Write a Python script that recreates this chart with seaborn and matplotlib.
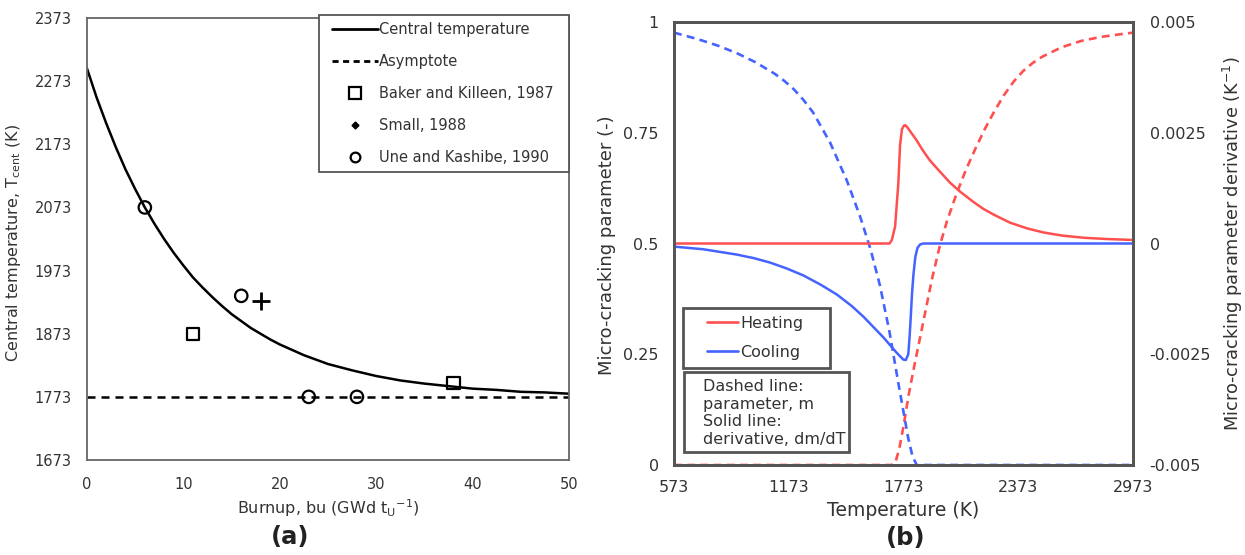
import matplotlib
matplotlib.use("Agg")
import matplotlib.pyplot as plt
import seaborn as sns
from matplotlib.lines import Line2D
from matplotlib.patches import Rectangle

# ---------------- data: panel (a) ----------------
bu_curve = [0, 1, 2, 3, 4, 5, 6, 7, 8, 9, 10, 11, 12, 13, 14, 15, 16, 17, 18, 19, 20,
            22.5, 25, 27.5, 30, 32.5, 35, 37.5, 40, 42.5, 45, 47.5, 50]
t_curve = [2293, 2247, 2206, 2168, 2133, 2102, 2073, 2047, 2023, 2001, 1981, 1962, 1946,
           1931, 1917, 1904, 1893, 1882, 1873, 1864, 1856,
           1839, 1825, 1815, 1806, 1799, 1794, 1790, 1786, 1784, 1781, 1780, 1778]
asym_bu = [0, 50]
asym_t = [1773, 1773]
baker_bu = [11, 38]
baker_t = [1873, 1795]
small_bu = [18]
small_t = [1925]
une_bu = [6, 16, 23, 28]
une_t = [2073, 1933, 1773, 1773]
legend_a = ["Central temperature", "Asymptote", "Baker and Killeen, 1987",
            "Small, 1988", "Une and Kashibe, 1990"]
xticks_a = [0, 10, 20, 30, 40, 50]
yticks_a = [1673, 1773, 1873, 1973, 2073, 2173, 2273, 2373]

# ---------------- data: panel (b) ----------------
heat_T_m = [573, 1000, 1500, 1710, 1730, 1750, 1772, 1800, 1830, 1868, 1921, 1964, 2000,
            2050, 2100, 2150, 2200, 2250, 2300, 2350, 2400, 2450, 2500, 2600, 2700, 2800,
            2900, 2973]
heat_m = [0, 0, 0, 0, 0.005, 0.035, 0.085, 0.158, 0.225, 0.305, 0.418, 0.497, 0.55,
          0.612, 0.667, 0.715, 0.76, 0.8, 0.836, 0.866, 0.89, 0.908, 0.922, 0.943, 0.957,
          0.966, 0.972, 0.976]
cool_T_m = [573, 700, 800, 900, 1000, 1100, 1150, 1200, 1250, 1300, 1389, 1476, 1546,
            1600, 1650, 1700, 1750, 1798, 1820, 1842, 2000, 2973]
cool_m = [0.976, 0.961, 0.947, 0.930, 0.909, 0.883, 0.867, 0.848, 0.824, 0.796, 0.728,
          0.643, 0.561, 0.488, 0.405, 0.30, 0.175, 0.06, 0.02, 0, 0, 0]
heat_T_d = [573, 1500, 1700, 1712, 1729, 1746, 1755, 1765, 1775, 1781, 1790, 1810, 1840,
            1870, 1910, 1964, 2017, 2069, 2138, 2191, 2250, 2330, 2420, 2504, 2600, 2714,
            2840, 2973]
heat_d = [0, 0, 0, 0.00008, 0.00038, 0.00136, 0.00222, 0.00258, 0.00266, 0.00267,
          0.00264, 0.00252, 0.00234, 0.00213, 0.00188, 0.00162, 0.00137, 0.00117, 0.00094,
          0.00078, 0.00064, 0.00047, 0.00034, 0.00025, 0.00018, 0.00013, 0.0001, 0.00008]
cool_T_d = [573, 726, 901, 990, 1075, 1160, 1249, 1340, 1424, 1502, 1563, 1668, 1738,
            1772, 1785, 1798, 1805, 1811, 1818, 1825, 1835, 1846, 1860, 1877, 2973]
cool_d = [-0.00007, -0.00013, -0.00025, -0.00033, -0.00043, -0.00056, -0.00072, -0.00093,
          -0.00115, -0.00141, -0.00165, -0.00212, -0.00247, -0.00262, -0.00263, -0.0025,
          -0.0021, -0.00165, -0.0011, -0.0007, -0.0003, -0.0001, -0.00002, 0, 0]
xticks_b = [573, 1173, 1773, 2373, 2973]
yticks_b = [0, 0.25, 0.5, 0.75, 1]
yticklabels_b = ["0", "0.25", "0.5", "0.75", "1"]
yticks_b2 = [-0.005, -0.0025, 0, 0.0025, 0.005]
yticklabels_b2 = ["-0.005", "-0.0025", "0", "0.0025", "0.005"]
legend_b = ["Heating", "Cooling"]
note_b = "Dashed line:\nparameter, m\nSolid line:\nderivative, dm/dT"

RED = "#FF4F4F"
BLUE = "#4463FF"
TXT = "#333333"
FRAME = "#555555"

sns.set_style("white")
plt.rcParams["font.family"] = ["DejaVu Sans"]
plt.rcParams["text.color"] = TXT
plt.rcParams["axes.labelcolor"] = TXT
plt.rcParams["xtick.color"] = TXT
plt.rcParams["ytick.color"] = TXT

W, H = 1245, 555
fig = plt.figure(figsize=(W / 100, H / 100), dpi=100)


def fx(px):
    return px / W


def fy(py):
    return 1 - py / H


# ---------------- panel (a) ----------------
A_L, A_R, A_T, A_B = 87, 569, 18, 460
axA = fig.add_axes([fx(A_L), fy(A_B), fx(A_R) - fx(A_L), fy(A_T) - fy(A_B)])


def axa(px, py):
    return (px - A_L) / (A_R - A_L), (A_B - py) / (A_B - A_T)


sns.lineplot(x=bu_curve, y=t_curve, ax=axA, color="black", lw=1.8, sort=False)
sns.lineplot(x=asym_bu, y=asym_t, ax=axA, color="black", lw=1.8,
             linestyle=(0, (3.2, 2.4)))
sns.scatterplot(x=baker_bu, y=baker_t, ax=axA, marker="s", s=80,
                facecolor="none", edgecolor="black", linewidth=1.6, zorder=3)
sns.scatterplot(x=small_bu, y=small_t, ax=axA, marker="+", s=160,
                color="black", linewidth=2, zorder=3)
sns.scatterplot(x=une_bu, y=une_t, ax=axA, marker="o", s=80,
                facecolor="none", edgecolor="black", linewidth=1.6, zorder=3)
for coll in axA.collections:
    if coll.get_offsets().shape[0] != 1:
        coll.set_facecolor("none")

axA.set_xlim(0, 50)
axA.set_ylim(1673, 2373)
axA.set_xticks(xticks_a)
axA.set_yticks(yticks_a)
axA.tick_params(length=0, labelsize=10.5)
axA.tick_params(axis="y", pad=11)
axA.tick_params(axis="x", pad=12)
axA.set_xlabel("")
axA.set_ylabel("")
for sp in axA.spines.values():
    sp.set_color("#666666")
    sp.set_linewidth(1.3)

# legend frame for (a)
x0, y0 = axa(319, 172)
x1, y1 = axa(569, 15)
axA.add_patch(Rectangle((x0, y0), x1 - x0, y1 - y0, transform=axA.transAxes,
                        fc="white", ec=FRAME, lw=1.3, clip_on=False, zorder=4.5))
handles_a = [
    Line2D([], [], color="black", lw=2),
    Line2D([], [], color="black", lw=2, linestyle=(0, (2.2, 1.6))),
    Line2D([], [], ls="none", marker="s", ms=8, mfc="none", mec="black", mew=1.6),
    Line2D([], [], ls="none", marker="D", ms=3.5, color="black"),
    Line2D([], [], ls="none", marker="o", ms=7, mfc="none", mec="black", mew=1.6),
]
lx, ly = axa(332, 22)
legA = axA.legend(handles_a, legend_a, loc="upper left", bbox_to_anchor=(lx, ly),
                  borderaxespad=0, borderpad=0, fontsize=10.5, frameon=False,
                  handlelength=3.15, handletextpad=0.08, labelspacing=1.16)
legA.set_zorder(5)

fig.text(fx(14), fy(243), r"Central temperature, T$_\mathregular{cent}$ (K)",
         rotation=90, ha="center", va="center", fontsize=11.5)
fig.text(fx(328), fy(508), r"Burnup, bu (GWd t$_\mathregular{U}$$^\mathregular{-1}$)",
         ha="center", va="center", fontsize=11.5)
fig.text(fx(290), fy(537), "(a)", ha="center", va="center", fontsize=17.5,
         fontweight="bold", color="#222222")

# ---------------- panel (b) ----------------
B_L, B_R, B_T, B_B = 674, 1133, 22, 465
axB = fig.add_axes([fx(B_L), fy(B_B), fx(B_R) - fx(B_L), fy(B_T) - fy(B_B)])


def axb(px, py):
    return (px - B_L) / (B_R - B_L), (B_B - py) / (B_B - B_T)


sns.lineplot(x=heat_T_m, y=heat_m, ax=axB, color=RED, lw=1.9,
             linestyle=(0, (3.0, 2.0)), sort=False)
sns.lineplot(x=cool_T_m, y=cool_m, ax=axB, color=BLUE, lw=1.9,
             linestyle=(0, (3.0, 2.0)), sort=False)
axB.set_xlim(573, 2973)
axB.set_ylim(0, 1)
axB.set_xticks(xticks_b)
axB.set_yticks(yticks_b)
axB.set_yticklabels(yticklabels_b)
axB.tick_params(length=0, labelsize=11.5)
axB.tick_params(axis="y", pad=11)
axB.tick_params(axis="x", pad=11)
axB.set_xlabel("")
axB.set_ylabel("")

axB2 = axB.twinx()
sns.lineplot(x=heat_T_d, y=heat_d, ax=axB2, color=RED, lw=1.8, sort=False)
sns.lineplot(x=cool_T_d, y=cool_d, ax=axB2, color=BLUE, lw=1.8, sort=False)
axB2.set_ylim(-0.005, 0.005)
axB2.set_yticks(yticks_b2)
axB2.set_yticklabels(yticklabels_b2)
axB2.tick_params(length=0, labelsize=11.5, pad=12)
axB2.set_xlabel("")
axB2.set_ylabel("")
for a in (axB, axB2):
    for sp in a.spines.values():
        sp.set_color(FRAME)
        sp.set_linewidth(2)

# legend (b) with its own frame
x0, y0 = axb(683, 368)
x1, y1 = axb(830, 308)
axB2.add_patch(Rectangle((x0, y0), x1 - x0, y1 - y0, transform=axB2.transAxes,
                         fc="white", ec=FRAME, lw=2, clip_on=False, zorder=4.5))
handles_b = [Line2D([], [], color=RED, lw=1.9), Line2D([], [], color=BLUE, lw=1.9)]
lx, ly = axb(707, 316)
legB = axB2.legend(handles_b, legend_b, loc="upper left", bbox_to_anchor=(lx, ly),
                   borderaxespad=0, borderpad=0, fontsize=11.5, frameon=False,
                   handlelength=1.95, handletextpad=0.12, labelspacing=0.85)
legB.set_zorder(5)

# note box
x0, y0 = axb(684, 452)
x1, y1 = axb(849, 372)
axB2.add_patch(Rectangle((x0, y0), x1 - x0, y1 - y0, transform=axB2.transAxes,
                         fc="white", ec=FRAME, lw=2, clip_on=False, zorder=4.5))
tx, ty = axb(703, 379)
axB2.text(tx, ty, note_b, transform=axB2.transAxes, ha="left", va="top",
          fontsize=11.5, linespacing=1.22, zorder=5)

fig.text(fx(607), fy(245), "Micro-cracking parameter (-)", rotation=90,
         ha="center", va="center", fontsize=13)
fig.text(fx(1233), fy(244), r"Micro-cracking parameter derivative (K$^\mathregular{-1}$)",
         rotation=90, ha="center", va="center", fontsize=12.8)
fig.text(fx(903), fy(510), "Temperature (K)", ha="center", va="center", fontsize=13.5)
fig.text(fx(906), fy(538), "(b)", ha="center", va="center", fontsize=17.5,
         fontweight="bold", color="#222222")

fig.savefig("out.png", dpi=100)
